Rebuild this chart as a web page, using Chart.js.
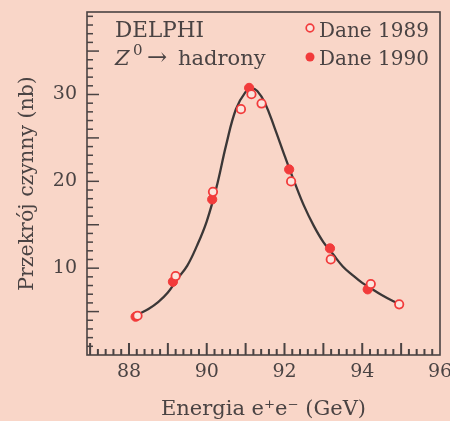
<!DOCTYPE html>
<html>
<head>
<meta charset="utf-8">
<script src="https://cdn.jsdelivr.net/npm/chart.js@4.4.0/dist/chart.umd.min.js"></script>
<style>
  body { margin: 0; background: #f9d6c8; }
  canvas { display: block; }
</style>
</head>
<body>
<canvas id="zChart" width="450" height="421"></canvas>
<script>
// energy in GeV, cross section in nb
const energy1989 = [88.22, 89.20, 90.16, 90.88, 91.15, 91.41, 92.17, 93.19, 94.22, 94.95];
const sigma1989  = [4.52, 9.09, 18.79, 28.31, 30.03, 28.96, 19.99, 11.01, 8.17, 5.83];

const energy1990 = [88.17, 89.13, 90.14, 91.09, 92.12, 93.17, 94.14];
const sigma1990  = [4.41, 8.43, 17.92, 30.76, 21.37, 12.28, 7.56];

// fitted curve
const fitEnergy = [88.25, 88.5, 88.75, 89.0, 89.25, 89.5, 89.75, 90.0, 90.25, 90.5, 90.75, 91.0, 91.15, 91.3, 91.5, 91.75, 92.0, 92.25, 92.5, 92.75, 93.0, 93.25, 93.5, 93.75, 94.0, 94.25, 94.5, 94.75, 94.97];
const fitSigma  = [4.7, 5.3, 6.1, 7.2, 8.8, 10.3, 12.6, 15.4, 19.3, 24.2, 28.3, 30.3, 30.7, 30.4, 29.0, 26.1, 23.0, 20.0, 17.2, 14.9, 13.0, 11.6, 10.2, 9.2, 8.3, 7.6, 6.9, 6.3, 5.85];

const xTickLabels = [88, 90, 92, 94, 96];
const yTickLabels = [10, 20, 30];

const labels = ['Dane 1989', 'Dane 1990'];

const toPoints = (xs, ys) => xs.map((x, i) => ({ x: x, y: ys[i] }));

const ink = '#4a4343';
const red = '#f23b3b';
const serif = "'DejaVu Serif', serif";

const frameAndTicks = {
    id: 'frameAndTicks',
    beforeDraw(chart) {
        const c = chart.ctx;
        c.save();
        c.fillStyle = '#f9d6c8';
        c.fillRect(0, 0, chart.width, chart.height);
        c.restore();
    },
    afterDraw(chart) {
        const c = chart.ctx;
        const a = chart.chartArea;
        const xs = chart.scales.x, ys = chart.scales.y;
        c.save();

        // x ticks every 0.2, longer on whole numbers
        c.fillStyle = ink;
        for (let k = 0; k < 45; k++) {
            const px = xs.getPixelForValue(87 + k * 0.2);
            const len = k % 5 === 0 ? 12 : 6;
            c.fillRect(px - 1, a.bottom - len, 2, len);
        }
        // y ticks every 1, longer every 5
        for (let v = 1; v < 40; v++) {
            const py = ys.getPixelForValue(v);
            if (py > a.top) {
                c.fillRect(a.left, py - 0.75, v % 5 === 0 ? 12 : 6, 1.5);
            }
        }

        c.strokeStyle = ink;
        c.lineWidth = 1.6;
        c.strokeRect(a.left, a.top, a.right - a.left, a.bottom - a.top);

        // captions
        c.textBaseline = 'alphabetic';
        c.font = '21.5px ' + serif;
        c.fillText('DELPHI', a.left + 28, a.top + 25);
        c.font = 'italic 21px ' + serif;
        c.fillText('Z', a.left + 28, a.top + 53);
        c.font = '15px ' + serif;
        c.fillText('0', a.left + 46, a.top + 43);
        c.font = '24px ' + serif;
        c.fillText('\u2192', a.left + 60, a.top + 53);
        c.font = '21px ' + serif;
        c.fillText('hadrony', a.left + 91, a.top + 53);

        // legend
        c.font = '20px ' + serif;
        c.fillText(labels[0], a.left + 232, a.top + 25);
        c.fillText(labels[1], a.left + 232, a.top + 53);
        c.beginPath();
        c.arc(a.left + 223, a.top + 16, 3.8, 0, Math.PI * 2);
        c.fillStyle = '#fbe4dc';
        c.fill();
        c.strokeStyle = red;
        c.lineWidth = 1.7;
        c.stroke();
        c.beginPath();
        c.arc(a.left + 223, a.top + 45, 4.5, 0, Math.PI * 2);
        c.fillStyle = red;
        c.fill();
        c.restore();
    }
};

new Chart(document.getElementById('zChart').getContext('2d'), {
    type: 'scatter',
    data: {
        datasets: [
            {
                label: labels[0],
                data: toPoints(energy1989, sigma1989),
                pointRadius: 4.2,
                borderWidth: 1.8,
                borderColor: red,
                backgroundColor: '#fbe4dc',
                order: 0
            },
            {
                label: labels[1],
                data: toPoints(energy1990, sigma1990),
                pointRadius: 4.6,
                borderWidth: 1,
                borderColor: red,
                backgroundColor: red,
                order: 1
            },
            {
                label: 'fit',
                type: 'line',
                data: toPoints(fitEnergy, fitSigma),
                showLine: true,
                pointRadius: 0,
                borderColor: '#3b3737',
                borderWidth: 2.3,
                tension: 0.4,
                fill: false,
                order: 2
            }
        ]
    },
    options: {
        responsive: false,
        animation: false,
        layout: { padding: { top: 12, right: 10, left: 0, bottom: 0 } },
        plugins: {
            legend: { display: false },
            tooltip: { enabled: false }
        },
        scales: {
            x: {
                type: 'linear',
                min: 86.92,
                max: 96,
                grid: { display: false, drawTicks: false },
                border: { display: false },
                afterBuildTicks: s => { s.ticks = xTickLabels.map(v => ({ value: v })); },
                afterFit: s => { s.height = 66; s.paddingLeft = 0; s.paddingRight = 0; },
                ticks: {
                    color: ink,
                    font: { family: serif, size: 19 },
                    padding: 6,
                    maxRotation: 0,
                    autoSkip: false
                },
                title: {
                    display: true,
                    text: 'Energia e\u207Ae\u207B (GeV)',
                    color: ink,
                    font: { family: serif, size: 21 },
                    padding: { top: 0, bottom: -1 }
                }
            },
            y: {
                min: 0,
                max: 39.5,
                grid: { display: false, drawTicks: false },
                border: { display: false },
                afterBuildTicks: s => { s.ticks = yTickLabels.map(v => ({ value: v })); },
                afterFit: s => { s.width = 87; s.paddingTop = 0; s.paddingBottom = 0; },
                ticks: {
                    color: ink,
                    font: { family: serif, size: 19 },
                    padding: 10,
                    autoSkip: false
                },
                title: {
                    display: true,
                    text: 'Przekrój czynny (nb)',
                    color: ink,
                    font: { family: serif, size: 20.5 },
                    padding: { top: 15, bottom: 0 }
                }
            }
        }
    },
    plugins: [frameAndTicks]
});
</script>
</body>
</html>
